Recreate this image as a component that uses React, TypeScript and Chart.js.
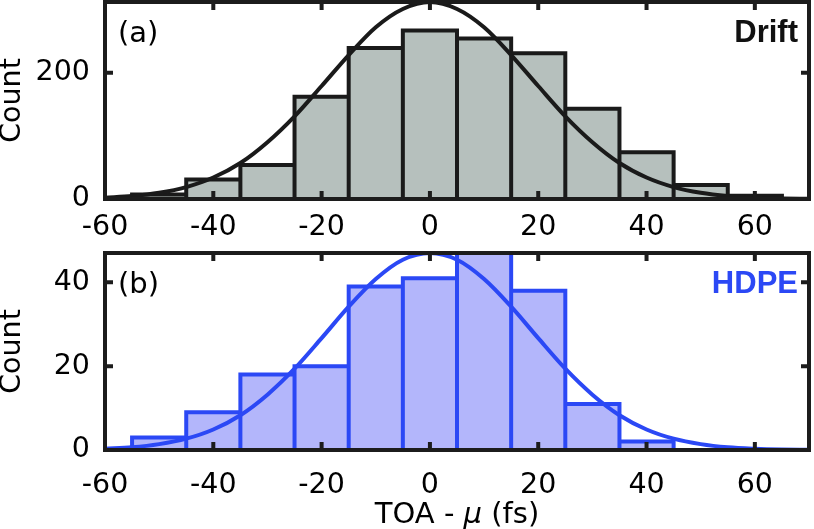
import React, { useEffect, useRef } from 'react';
import { Chart, registerables } from 'chart.js';

Chart.register(...registerables);

// ---------- data ----------
const BIN_WIDTH = 10;
const driftBinCenters = [-50, -40, -30, -20, -10, 0, 10, 20, 30, 40, 50, 60];
const driftCounts = [7, 31, 54, 162, 239, 267, 254, 231, 143, 74, 22, 5];
const hdpeBinCenters = [-50, -40, -30, -20, -10, 0, 10, 20, 30, 40];
const hdpeCounts = [3, 9, 18, 20, 39, 41, 47, 38, 11, 2];

const fitX = [-60, -55, -50, -45, -40, -35, -30, -25, -20, -15, -10, -5, 0, 5, 10, 15, 20, 25, 30, 35, 40, 45, 50, 55, 60, 65, 70];
const driftFit = [2.1, 4.7, 9.8, 18.9, 34, 57, 90, 131, 179, 228, 272, 301, 312, 301, 272, 228, 179, 131, 90, 57, 34, 18.9, 9.8, 4.7, 2.1, 0.9, 0.35];
const hdpeFit = [0.3, 0.65, 1.4, 2.7, 4.9, 8.3, 13.2, 19.4, 26.7, 34.2, 40.8, 45.4, 47, 45.4, 40.8, 34.2, 26.7, 19.4, 13.2, 8.3, 4.9, 2.7, 1.4, 0.65, 0.3, 0.12, 0.05];

const xTickValues = [-60, -40, -20, 0, 20, 40, 60];
const driftYTicks = [0, 200];
const hdpeYTicks = [0, 20, 40];
const xLabelParts = ['TOA - ', 'μ', ' (fs)'];
const yLabel = 'Count';

// ---------- styles ----------
const FONT = "'DejaVu Sans', sans-serif";
const BOLD_FONT = "'Liberation Sans', Arial, sans-serif";
const FRAME = '#1c1c1c';
const TICK_LEN = 8;

type PanelCfg = {
  top: number;
  h: number;
  areaTop: number;
  areaBottom: number;
  xPad: number;
  centers: number[];
  counts: number[];
  fit: number[];
  yMax: number;
  yTicks: number[];
  fill: string;
  line: string;
  tag: string;
  name: string;
  nameColor: string;
  showXTitle: boolean;
};

function outline(centers: number[], counts: number[], w: number) {
  const pts: { x: number; y: number }[] = [];
  centers.forEach((c, i) => {
    const l = c - w / 2;
    const r = c + w / 2;
    if (i === 0) pts.push({ x: l, y: 0 });
    pts.push({ x: l, y: counts[i] }, { x: r, y: counts[i] }, { x: r, y: 0 });
  });
  return pts;
}

function Panel({ cfg }: { cfg: PanelCfg }) {
  const ref = useRef<HTMLCanvasElement>(null);
  useEffect(() => {
    const canvas = ref.current!;
    const chart = new Chart(canvas, {
      type: 'bar',
      data: {
        datasets: [
          {
            type: 'line',
            data: fitX.map((x, i) => ({ x, y: cfg.fit[i] })),
            borderColor: cfg.line,
            borderWidth: 4,
            pointRadius: 0,
            cubicInterpolationMode: 'monotone',
            fill: false,
            order: 0,
          } as any,
          {
            type: 'line',
            data: outline(cfg.centers, cfg.counts, BIN_WIDTH),
            borderColor: cfg.line,
            borderWidth: 4,
            pointRadius: 0,
            tension: 0,
            borderJoinStyle: 'miter',
            fill: false,
            order: 1,
          } as any,
          {
            type: 'bar',
            data: cfg.centers.map((x, i) => ({ x, y: cfg.counts[i] })),
            backgroundColor: cfg.fill,
            borderWidth: 0,
            barPercentage: 1,
            categoryPercentage: 1,
            order: 2,
          } as any,
        ],
      },
      options: {
        animation: false,
        responsive: false,
        devicePixelRatio: 1,
        layout: { padding: { left: 0, right: 5, top: cfg.areaTop, bottom: 0 } },
        plugins: { legend: { display: false }, tooltip: { enabled: false } },
        scales: {
          x: {
            type: 'linear',
            position: 'bottom',
            min: -60,
            max: 70,
            offset: false,
            grid: { display: false, drawTicks: false },
            border: { display: false },
            afterBuildTicks: (s: any) => {
              s.ticks = xTickValues.map((v) => ({ value: v }));
            },
            afterFit: (s: any) => {
              s.height = cfg.h - cfg.areaBottom;
              s.paddingLeft = 0;
              s.paddingRight = 0;
            },
            ticks: {
              maxRotation: 0,
              autoSkip: false,
              padding: cfg.xPad,
              color: '#000',
              font: { family: FONT, size: 28.5 },
            },
          },
          y: {
            type: 'linear',
            min: 0,
            max: cfg.yMax,
            grid: { display: false, drawTicks: false },
            border: { display: false },
            afterBuildTicks: (s: any) => {
              s.ticks = cfg.yTicks.map((v) => ({ value: v }));
            },
            afterFit: (s: any) => {
              s.width = 105;
              s.paddingTop = 0;
              s.paddingBottom = 0;
            },
            ticks: {
              padding: 15,
              color: '#000',
              font: { family: FONT, size: 28.5 },
            },
            title: {
              display: true,
              text: yLabel,
              color: '#000',
              padding: 0,
              font: { family: FONT, size: 28.5, lineHeight: 0.85 },
            },
          },
        },
      } as any,
      plugins: [
        {
          id: 'decor',
          afterDatasetsDraw(ch: any) {
            const { ctx, chartArea: a } = ch;
            const xs = ch.scales.x;
            const ys = ch.scales.y;
            ctx.save();
            ctx.strokeStyle = FRAME;
            ctx.lineWidth = 4;
            ctx.lineCap = 'butt';
            ctx.beginPath();
            for (const v of xTickValues) {
              const px = xs.getPixelForValue(v);
              if (px < a.left + 4 || px > a.right - 4) continue;
              ctx.moveTo(px, a.bottom);
              ctx.lineTo(px, a.bottom - TICK_LEN);
              ctx.moveTo(px, a.top);
              ctx.lineTo(px, a.top + TICK_LEN);
            }
            for (const v of cfg.yTicks) {
              const py = ys.getPixelForValue(v);
              if (py > a.bottom - 4 || py < a.top + 4) continue;
              ctx.moveTo(a.left, py);
              ctx.lineTo(a.left + TICK_LEN, py);
              ctx.moveTo(a.right, py);
              ctx.lineTo(a.right - TICK_LEN, py);
            }
            ctx.stroke();
            ctx.lineJoin = 'miter';
            ctx.strokeRect(a.left, a.top, a.right - a.left, a.bottom - a.top);

            ctx.textBaseline = 'alphabetic';
            ctx.fillStyle = '#000';
            ctx.font = `29px ${FONT}`;
            ctx.textAlign = 'left';
            ctx.fillText(cfg.tag, a.left + 13, a.top + 40);

            ctx.font = `bold 31px ${BOLD_FONT}`;
            ctx.fillStyle = cfg.nameColor;
            ctx.textAlign = 'right';
            ctx.fillText(cfg.name, a.right - 11, a.top + 40);

            if (cfg.showXTitle) {
              const normal = `29px ${FONT}`;
              const italic = `italic 29px ${FONT}`;
              const fonts = [normal, italic, normal];
              const widths = xLabelParts.map((t, i) => {
                ctx.font = fonts[i];
                return ctx.measureText(t).width;
              });
              const total = widths.reduce((p, c) => p + c, 0);
              let x = (a.left + a.right) / 2 - total / 2;
              const y = a.bottom + 72.6;
              ctx.fillStyle = '#000';
              ctx.textAlign = 'left';
              xLabelParts.forEach((t, i) => {
                ctx.font = fonts[i];
                ctx.fillText(t, x, y);
                x += widths[i];
              });
            }
            ctx.restore();
          },
        },
      ],
    });
    return () => chart.destroy();
  }, [cfg]);
  return (
    <canvas
      ref={ref}
      width={814}
      height={cfg.h}
      style={{ position: 'absolute', left: 0, top: cfg.top, width: 814, height: cfg.h, display: 'block' }}
    />
  );
}

const topCfg: PanelCfg = {
  top: 0,
  h: 240,
  areaTop: 2,
  areaBottom: 199,
  xPad: 11,
  centers: driftBinCenters,
  counts: driftCounts,
  fit: driftFit,
  yMax: 312,
  yTicks: driftYTicks,
  fill: '#b6c0bd',
  line: '#1a1a1a',
  tag: '(a)',
  name: 'Drift',
  nameColor: '#111',
  showXTitle: false,
};

const bottomCfg: PanelCfg = {
  top: 240,
  h: 289,
  areaTop: 13,
  areaBottom: 210,
  xPad: 18,
  centers: hdpeBinCenters,
  counts: hdpeCounts,
  fit: hdpeFit,
  yMax: 47,
  yTicks: hdpeYTicks,
  fill: '#b3b6fb',
  line: '#2b48f5',
  tag: '(b)',
  name: 'HDPE',
  nameColor: '#2b48f5',
  showXTitle: true,
};

export default function App() {
  return (
    <div style={{ position: 'fixed', left: 0, top: 0, width: 814, height: 529, background: '#fff', overflow: 'hidden' }}>
      <Panel cfg={topCfg} />
      <Panel cfg={bottomCfg} />
    </div>
  );
}
